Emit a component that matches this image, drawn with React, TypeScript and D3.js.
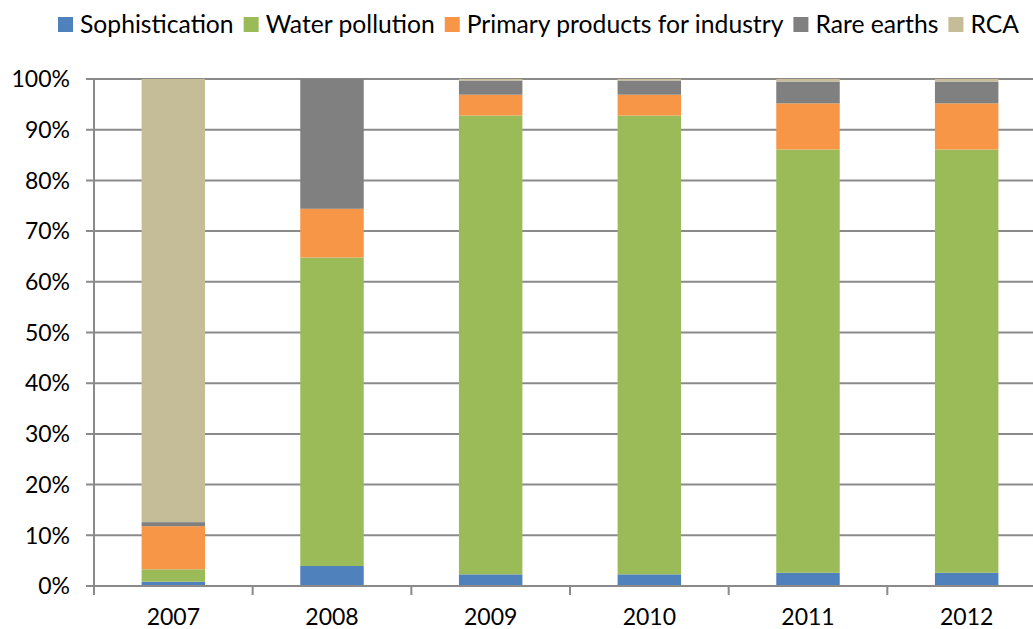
import React, { useLayoutEffect, useRef, useState } from 'react';
import * as d3 from 'd3';

const years = ['2007', '2008', '2009', '2010', '2011', '2012'];
const seriesNames = ['Sophistication', 'Water pollution', 'Primary products for industry', 'Rare earths', 'RCA'];
const seriesColors = ['#4F81BD', '#9BBB59', '#F79646', '#808080', '#C4BD97'];

// shares in percent, per year
const sophistication = [0.85, 3.95, 2.3, 2.3, 2.6, 2.6];
const waterPollution = [2.45, 60.85, 90.5, 90.5, 83.5, 83.5];
const primaryProducts = [8.5, 9.6, 4.1, 4.1, 9.1, 9.1];
const rareEarths = [0.8, 25.6, 2.8, 2.8, 4.3, 4.3];
const rca = [87.4, 0, 0.3, 0.3, 0.5, 0.5];

const seriesValues = [sophistication, waterPollution, primaryProducts, rareEarths, rca];
const yTicks = [0, 10, 20, 30, 40, 50, 60, 70, 80, 90, 100];

const W = 1033;
const H = 629;
const margin = { top: 79, right: -13, bottom: 43, left: 94 };
const FONT = 'Lato, "Open Sans", sans-serif';

export default function App() {
  const legendRef = useRef<SVGGElement>(null);
  const [offsets, setOffsets] = useState<number[]>(seriesNames.map((_, i) => i * 190));

  const x = d3.scaleBand<string>()
    .domain(years)
    .range([margin.left, W - margin.right])
    .paddingInner(0.6)
    .paddingOuter(0.3);
  const y = d3.scaleLinear().domain([0, 100]).range([H - margin.bottom, margin.top]);

  const table = years.map((yr, i) => {
    const row: Record<string, number | string> = { year: yr };
    seriesNames.forEach((s, k) => { row[s] = seriesValues[k][i]; });
    return row;
  });
  const stacked = d3.stack<Record<string, number | string>>().keys(seriesNames)(table as any);

  const step = x.step();
  const boundaries = d3.range(years.length + 1).map(i => margin.left + i * step);

  // legend: square, gap, label, gap
  useLayoutEffect(() => {
    if (!legendRef.current) return;
    const texts = d3.select(legendRef.current).selectAll<SVGTextElement, unknown>('text').nodes();
    const out: number[] = [];
    let acc = 0;
    texts.forEach((t) => {
      out.push(acc);
      acc += 22 + t.getComputedTextLength() + 10;
    });
    setOffsets(out);
  }, []);

  const x0 = y(0);

  return (
    <svg width={W} height={H} style={{ position: 'absolute', left: 0, top: 0, background: '#fff' }} fontFamily={FONT}>
      {/* Gridlines */}
      {yTicks.map(t => (
        <g key={t}>
          <line x1={86} x2={W} y1={y(t)} y2={y(t)} stroke="#8a8a8a" strokeWidth={2} />
          <text x={70} y={y(t)} dy="0.36em" textAnchor="end" fontSize={23} fill="#000">{t}%</text>
        </g>
      ))}

      {/* Bars */}
      {stacked.map((layer, k) => (
        <g key={seriesNames[k]} fill={seriesColors[k]}>
          {layer.map((d, i) => (
            <rect
              key={years[i]}
              x={x(years[i])}
              width={x.bandwidth()}
              y={y(d[1])}
              height={Math.max(0, y(d[0]) - y(d[1]))}
            />
          ))}
        </g>
      ))}

      {/* Axes */}
      <line x1={margin.left} x2={margin.left} y1={y(100)} y2={x0} stroke="#8a8a8a" strokeWidth={2} />
      <line x1={margin.left} x2={W} y1={x0} y2={x0} stroke="#8a8a8a" strokeWidth={2} />
      {boundaries.map((bx, i) => (
        <line key={i} x1={bx} x2={bx} y1={x0} y2={x0 + 9} stroke="#8a8a8a" strokeWidth={2} />
      ))}
      {years.map(yr => (
        <text key={yr} x={(x(yr) ?? 0) + x.bandwidth() / 2} y={625} textAnchor="middle" fontSize={23} fill="#000">{yr}</text>
      ))}

      {/* Legend */}
      <g ref={legendRef} transform="translate(58, 0)">
        {seriesNames.map((s, k) => (
          <g key={s} transform={`translate(${offsets[k]}, 0)`}>
            <rect x={0} y={17} width={15} height={15} fill={seriesColors[k]} />
            <text x={22} y={33} fontSize={24.7} fill="#000">{s}</text>
          </g>
        ))}
      </g>
    </svg>
  );
}
